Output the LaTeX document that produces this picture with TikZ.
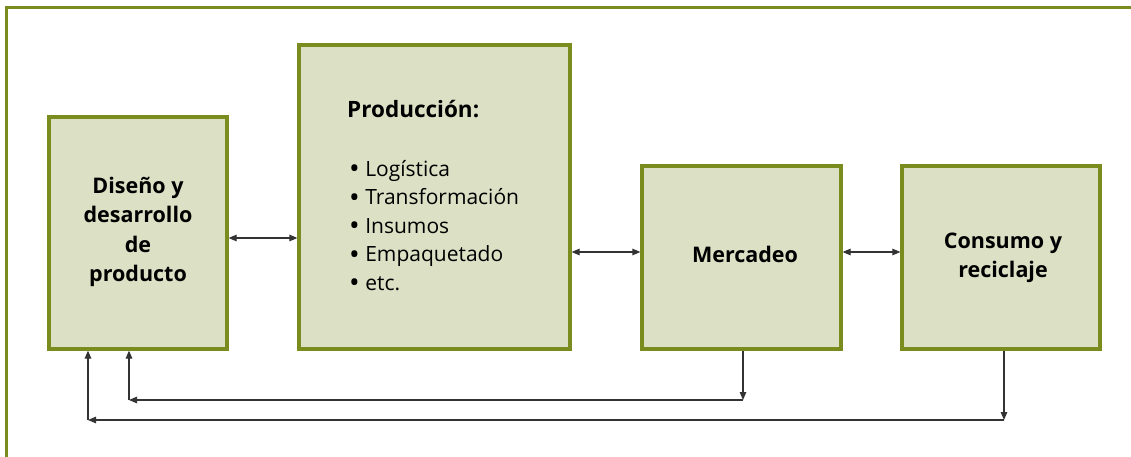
\documentclass[tikz,border=0pt]{standalone}
\usepackage{fontspec}
\setmainfont{Open Sans}
\usetikzlibrary{arrows.meta}
\definecolor{olive}{HTML}{7A8C1E}
\definecolor{boxfill}{HTML}{DCE0C4}
\definecolor{arrowc}{HTML}{333333}
\newcommand{\bul}{\raisebox{-2.5pt}{\scalebox{1.35}{\textbullet}}\ }
\begin{document}
\begin{tikzpicture}[x=1pt,y=-1pt,
  blk/.style={draw=olive,fill=boxfill,line width=3.2pt,inner sep=0pt},
  lbl/.style={font=\fontsize{21.5}{29.5}\selectfont\bfseries,align=center},
  conn/.style={draw=arrowc,line width=1.2pt},
  tip/.style={-{Triangle[length=8pt,width=6.5pt]}},
  tips/.style={{Triangle[length=8pt,width=6.5pt]}-{Triangle[length=8pt,width=6.5pt]}}]
\useasboundingbox (0,0) rectangle (1131,457);
\fill[white] (0,0) rectangle (1131,457);
\draw[olive,line width=3.2pt] (6.5,460) -- (6.5,7.5) -- (1135,7.5);
% boxes
\node[blk,minimum width=178pt,minimum height=232pt] (dis) at (138,233) {};
\node[blk,minimum width=271pt,minimum height=304pt] (prod) at (434.5,197) {};
\node[blk,minimum width=199pt,minimum height=183pt] (mer) at (741.5,257.5) {};
\node[blk,minimum width=198pt,minimum height=183pt] (con) at (1001,257.5) {};
% labels
\node[lbl] (distxt) at (138,232) {Diseño y\\desarrollo\\de\\producto};
\node[lbl] (mertxt) at (745,254) {Mercadeo};
\node[lbl] (contxt) at (1003,258) {Consumo y\\reciclaje};
\node[font=\fontsize{22.5}{29}\selectfont\bfseries,anchor=base west,inner sep=0pt] (prodtit) at (347,118) {Producción:};
\node[font=\fontsize{21}{28.5}\selectfont,anchor=north west,align=left,inner sep=0pt] (prodlist) at (349,160)
  {\bul Logística\\\bul Transformación\\\bul Insumos\\\bul Empaquetado\\\bul etc.};
% horizontal double arrows
\draw[conn,tips] (dis.east |- 0,238) -- (prod.west |- 0,238);
\draw[conn,tips] (prod.east |- 0,252) -- (mer.west |- 0,252);
\draw[conn,tips] (mer.east |- 0,252) -- (con.west |- 0,252);
% feedback loops
\coordinate (m1) at (743,400);
\coordinate (m2) at (129,400);
\coordinate (c1) at (1004,420);
\coordinate (c2) at (88,420);
\draw[conn,tip] (mer.south -| m1) -- (m1);
\draw[conn,tip] (m1) -- (m2);
\draw[conn,tip] (m2) -- (dis.south -| m2);
\draw[conn,tip] (con.south -| c1) -- (c1);
\draw[conn,tip] (c1) -- (c2);
\draw[conn,tip] (c2) -- (dis.south -| c2);
\end{tikzpicture}
\end{document}
